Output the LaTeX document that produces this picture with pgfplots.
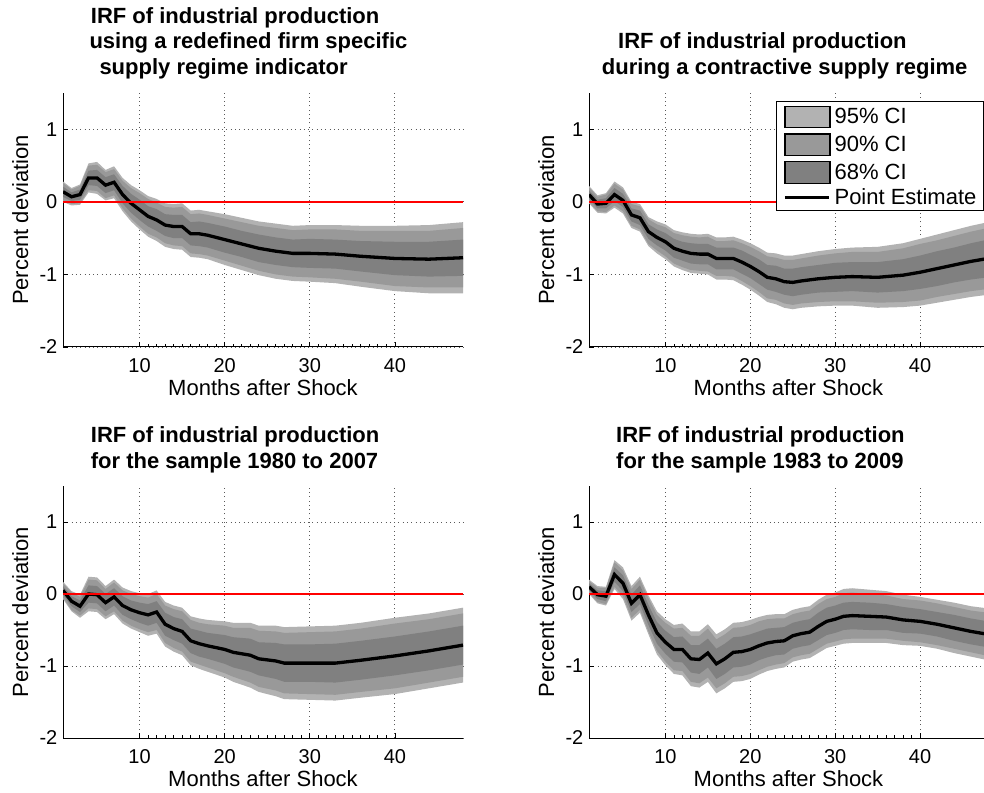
\documentclass[border=0pt]{standalone}
\usepackage{fontspec}
\setmainfont{Liberation Sans}
\usepackage{pgfplots}
\usepackage{pgfplotstable}
\pgfplotsset{compat=1.18}
\usepgfplotslibrary{fillbetween}
\definecolor{cA}{gray}{0.70}
\definecolor{cB}{gray}{0.60}
\definecolor{cC}{gray}{0.50}
\newcommand{\fs}{\fontsize{22}{26}\selectfont}
\newcommand{\tks}{\fontsize{20}{24}\selectfont}
\newcommand{\tfs}{\bfseries\fontsize{22}{26}\selectfont}

\pgfplotstableread{
x p a b c
1 0.14 .07 .12 .14
2 0.07 .06 .10 .12
3 0.10 .07 .12 .14
4 0.33 .10 .17 .20
5 0.33 .11 .18 .22
6 0.23 .11 .18 .21
7 0.27 .11 .18 .22
8 0.10 .12 .19 .23
9 -0.02 .13 .21 .25
10 -0.11 .14 .23 .27
11 -0.20 .14 .24 .28
12 -0.25 .15 .24 .29
13 -0.32 .15 .25 .30
14 -0.34 .16 .26 .31
15 -0.34 .16 .27 .32
16 -0.44 .16 .27 .32
17 -0.44 .17 .28 .33
18 -0.46 .17 .28 .33
20 -0.52 .18 .29 .35
22 -0.58 .18 .30 .36
24 -0.64 .19 .31 .37
26 -0.68 .19 .32 .38
28 -0.71 .19 .32 .38
30 -0.71 .20 .33 .39
33 -0.72 .20 .34 .40
36 -0.75 .21 .35 .42
40 -0.78 .23 .38 .45
44 -0.79 .24 .39 .47
48 -0.77 .25 .41 .49
}\tabTL

\pgfplotstableread{
x p a b c
1 0.10 .06 .10 .12
2 -0.03 .06 .10 .12
3 -0.02 .07 .12 .14
4 0.10 .09 .15 .18
5 0.02 .09 .15 .18
6 -0.18 .09 .15 .18
7 -0.22 .10 .16 .19
8 -0.41 .10 .17 .20
9 -0.49 .11 .18 .22
10 -0.55 .12 .20 .24
11 -0.64 .13 .21 .25
12 -0.68 .13 .22 .26
13 -0.71 .14 .23 .27
14 -0.72 .14 .23 .27
15 -0.72 .14 .24 .28
16 -0.78 .15 .24 .29
17 -0.78 .15 .24 .29
18 -0.78 .15 .25 .30
19 -0.83 .16 .26 .31
20 -0.89 .16 .27 .32
21 -0.96 .17 .28 .33
22 -1.04 .17 .29 .34
23 -1.06 .18 .29 .35
24 -1.10 .18 .30 .36
25 -1.11 .19 .31 .37
26 -1.09 .19 .31 .37
28 -1.06 .19 .32 .38
30 -1.04 .20 .33 .39
32 -1.03 .20 .34 .40
35 -1.04 .21 .35 .42
38 -1.01 .22 .37 .44
40 -0.97 .23 .39 .46
42 -0.92 .24 .39 .47
44 -0.87 .24 .40 .48
46 -0.82 .25 .41 .49
48 -0.78 .26 .42 .50
}\tabTR

\pgfplotstableread{
x p a b c
1 0.05 .06 .10 .12
2 -0.10 .07 .12 .14
3 -0.17 .08 .13 .16
4 0.00 .12 .20 .24
5 -0.01 .12 .20 .24
6 -0.12 .12 .19 .23
7 -0.04 .12 .20 .24
8 -0.16 .13 .21 .25
9 -0.22 .13 .22 .26
10 -0.26 .14 .23 .27
11 -0.29 .15 .24 .29
12 -0.25 .15 .25 .30
13 -0.42 .16 .26 .31
14 -0.48 .16 .27 .32
15 -0.52 .17 .28 .33
16 -0.65 .17 .29 .34
17 -0.69 .18 .29 .35
18 -0.72 .18 .30 .36
20 -0.77 .20 .33 .39
21 -0.81 .21 .34 .41
22 -0.83 .22 .36 .43
23 -0.85 .23 .38 .45
24 -0.90 .23 .39 .46
26 -0.93 .25 .41 .49
27 -0.96 .26 .42 .50
30 -0.96 .26 .43 .51
33 -0.96 .27 .44 .52
36 -0.92 .27 .44 .52
40 -0.86 .27 .45 .53
44 -0.79 .27 .44 .52
48 -0.71 .27 .44 .52
}\tabBL

\pgfplotstableread{
x p a b c
1 0.10 .05 .08 .10
2 -0.01 .06 .10 .12
3 -0.03 .07 .11 .13
4 0.27 .10 .17 .20
5 0.15 .11 .18 .22
6 -0.13 .12 .20 .24
7 -0.01 .13 .21 .25
8 -0.29 .14 .23 .27
9 -0.54 .15 .25 .30
10 -0.67 .16 .27 .32
11 -0.77 .17 .29 .34
12 -0.77 .18 .30 .36
13 -0.90 .19 .32 .38
14 -0.91 .20 .33 .39
15 -0.82 .20 .34 .40
16 -0.97 .21 .34 .41
17 -0.90 .21 .34 .41
18 -0.81 .21 .34 .41
19 -0.80 .21 .34 .41
20 -0.77 .21 .34 .41
21 -0.72 .20 .34 .40
22 -0.68 .20 .33 .39
23 -0.66 .19 .32 .38
24 -0.65 .19 .31 .37
25 -0.58 .18 .30 .36
26 -0.55 .18 .30 .36
27 -0.53 .18 .30 .36
28 -0.45 .19 .31 .37
29 -0.38 .19 .31 .37
30 -0.35 .19 .31 .37
31 -0.31 .19 .32 .38
32 -0.30 .19 .32 .38
34 -0.31 .19 .31 .37
36 -0.32 .18 .30 .36
38 -0.36 .18 .29 .35
40 -0.38 .17 .29 .34
42 -0.42 .17 .29 .34
44 -0.47 .18 .29 .35
46 -0.52 .18 .29 .35
48 -0.56 .18 .30 .36
}\tabBR

\pgfplotsset{
  irf/.style={
    scale only axis, anchor=south west,
    xmin=1, xmax=48, ymin=-2, ymax=1.5,
    axis x line*=bottom, axis y line*=left,
    xtick={10,20,30,40}, xticklabels={10,20,30,40},
    ytick={-2,-1,0,1}, yticklabels={-2,-1,0,1},
    minor x tick num=9,
    tick align=inside, major tick length=5pt, minor tick length=3pt,
    tick style={black, line width=0.8pt},
    axis line style={black, line width=1pt},
    grid=major,
    major grid style={black!65, line width=0.9pt, dash pattern=on 0.9pt off 3.4pt},
    ticklabel style={font=\tks},
    xticklabel style={anchor=base, yshift=-25.3pt},
    yticklabel style={anchor=east, inner sep=0pt, xshift=-5.5pt},
    xlabel={Months after Shock},
    ylabel={Percent deviation},
    xlabel style={at={(axis description cs:0.5,-0.192)}, anchor=base, font=\fs},
    ylabel style={at={(axis description cs:-0.0875,0.5)}, anchor=base, font=\fs},
  },
  patchleg/.style={legend image code/.code={\fill[##1] (0pt,-10.8pt) rectangle (45pt,10.8pt);}},
  lineleg/.style={legend image code/.code={\draw[##1] (0pt,0pt) -- (44pt,0pt);}},
}

\newcommand{\irf}[1]{%
  \addplot[name path=u3, draw=none, forget plot] table[x=x, y expr=\thisrow{p}+\thisrow{c}] {#1};
  \addplot[name path=l3, draw=none, forget plot] table[x=x, y expr=\thisrow{p}-\thisrow{c}] {#1};
  \addplot[fill=cA, draw=none, forget plot] fill between[of=u3 and l3];
  \addplot[name path=u2, draw=none, forget plot] table[x=x, y expr=\thisrow{p}+\thisrow{b}] {#1};
  \addplot[name path=l2, draw=none, forget plot] table[x=x, y expr=\thisrow{p}-\thisrow{b}] {#1};
  \addplot[fill=cB, draw=none, forget plot] fill between[of=u2 and l2];
  \addplot[name path=u1, draw=none, forget plot] table[x=x, y expr=\thisrow{p}+\thisrow{a}] {#1};
  \addplot[name path=l1, draw=none, forget plot] table[x=x, y expr=\thisrow{p}-\thisrow{a}] {#1};
  \addplot[fill=cC, draw=none, forget plot] fill between[of=u1 and l1];
  \addplot[black, line width=3.3pt, forget plot] table[x=x, y=p] {#1};
  \addplot[red, line width=2pt, forget plot] coordinates {(1,0) (48,0)};
}

\begin{document}
\begin{tikzpicture}
\begin{axis}[irf, at={(63pt,445pt)}, width=400pt, height=254pt]
\irf{\tabTL}
\end{axis}
\begin{axis}[irf, at={(589pt,445pt)}, width=399pt, height=254pt,
  legend style={at={(rel axis cs:0.99,0.9685)}, anchor=north east, draw=black, line width=1.2pt, fill=white,
    font=\fs, inner xsep=7pt, inner ysep=4pt, row sep=5pt, nodes={inner sep=0pt},
    /tikz/every odd column/.append style={column sep=4pt}},
  legend cell align=left]
\irf{\tabTR}
\addlegendimage{patchleg, fill=cA}
\addlegendentry{95\% CI}
\addlegendimage{patchleg, fill=cB}
\addlegendentry{90\% CI}
\addlegendimage{patchleg, fill=cC}
\addlegendentry{68\% CI}
\addlegendimage{lineleg, black, line width=3.3pt}
\addlegendentry{Point Estimate}
\end{axis}
\begin{axis}[irf, at={(63pt,54pt)}, width=400pt, height=252pt]
\irf{\tabBL}
\end{axis}
\begin{axis}[irf, at={(589pt,54pt)}, width=399pt, height=252pt]
\irf{\tabBR}
\end{axis}
\node[anchor=base west, inner sep=0pt, font=\tfs] at (90.7pt,768.5pt) {IRF of industrial production};
\node[anchor=base west, inner sep=0pt, font=\tfs] at (89.3pt,743pt) {using a redefined firm specific};
\node[anchor=base west, inner sep=0pt, font=\tfs] at (99.3pt,717.5pt) {supply regime indicator};
\node[anchor=base west, inner sep=0pt, font=\tfs] at (618pt,743pt) {IRF of industrial production};
\node[anchor=base west, inner sep=0pt, font=\tfs] at (601.7pt,717.5pt) {during a contractive supply regime};
\node[anchor=base west, inner sep=0pt, font=\tfs] at (90.7pt,349.7pt) {IRF of industrial production};
\node[anchor=base west, inner sep=0pt, font=\tfs] at (90.7pt,323.7pt) {for the sample 1980 to 2007};
\node[anchor=base west, inner sep=0pt, font=\tfs] at (616pt,349.7pt) {IRF of industrial production};
\node[anchor=base west, inner sep=0pt, font=\tfs] at (616pt,323.7pt) {for the sample 1983 to 2009};
\pgfresetboundingbox
\path[use as bounding box] (0pt,0pt) rectangle (984pt,792pt);
\end{tikzpicture}
\end{document}
